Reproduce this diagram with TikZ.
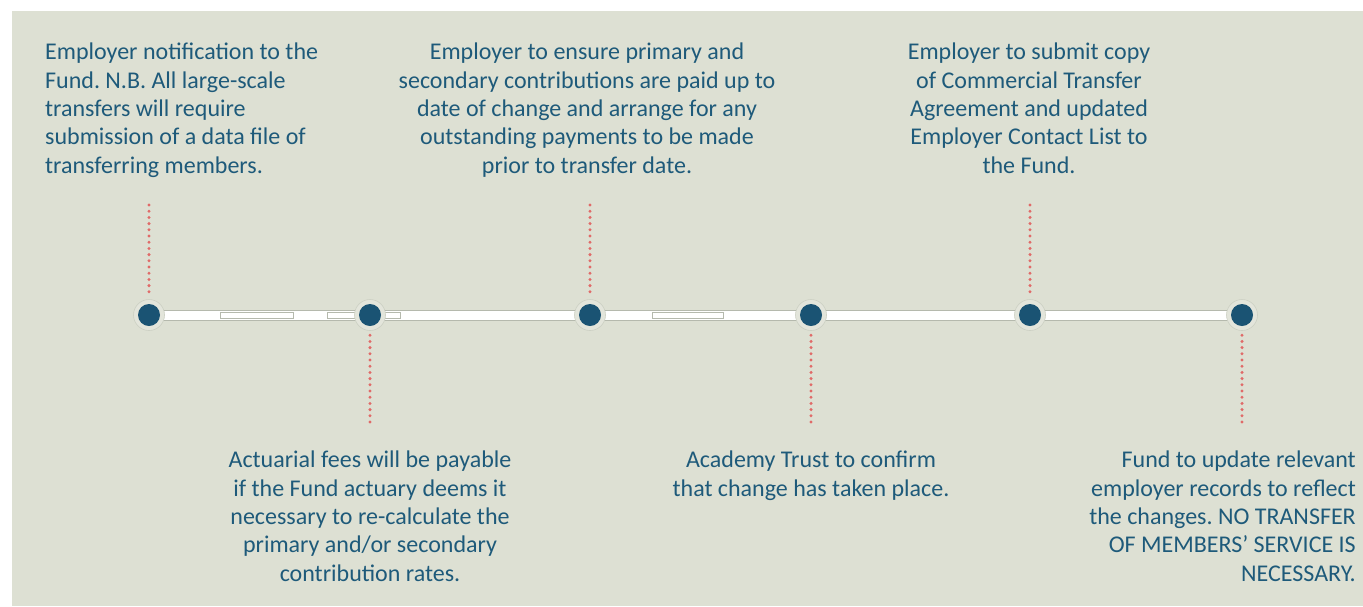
\documentclass[tikz,border=0pt]{standalone}
\usepackage{fontspec}
\setmainfont{Carlito}
\frenchspacing
\definecolor{panel}{HTML}{DDE0D3}
\definecolor{txt}{HTML}{1E5A7A}
\definecolor{dotc}{HTML}{E06A68}
\definecolor{ring}{HTML}{E3E5DB}
\definecolor{ringb}{HTML}{CCD0C3}
\definecolor{bandb}{HTML}{B5B9AD}
\definecolor{dark}{HTML}{1A5373}
\tikzset{
  lbl/.style={text=txt, font=\fontsize{24}{28.3}\selectfont, inner sep=0pt},
  milestone/.style={circle, fill=dark, minimum size=22pt, inner sep=0pt},
  halo/.style={circle, fill=ring, draw=ringb, line width=0.6pt, minimum size=31pt, inner sep=0pt},
  dotline/.style={dotc, line width=3.3pt, line cap=round, dash pattern=on 0pt off 6.2pt},
  band/.style={fill=white, draw=bandb, line width=1pt},
  slot/.style={fill=white, draw=bandb, line width=0.7pt}
}
\begin{document}
\begin{tikzpicture}[x=1pt,y=-1pt]
\useasboundingbox (0,0) rectangle (1363,606);
\fill[white] (0,0) rectangle (1363,606);
\fill[panel] (12,11) rectangle (1363,606);
% band
\draw[band] (149,310) rectangle (1242,320);
\draw[slot] (220,312.5) rectangle (293,318);
\draw[slot] (327,312.5) rectangle (400,318);
\draw[slot] (652,312.5) rectangle (723,318);
% milestones
\foreach \n/\x in {m1/149,m2/370,m3/590,m4/811,m5/1030,m6/1242}{
  \node[halo] at (\x,315) {};
  \node[milestone] (\n) at (\x,315) {};
}
% dotted connectors
\coordinate (t1) at (149,205);
\coordinate (t3) at (590,205);
\coordinate (t5) at (1030,205);
\coordinate (b2) at (370,428);
\coordinate (b4) at (811,428);
\coordinate (b6) at (1242,428);
\draw[dotline] (t1) -- ([yshift=9pt]m1.north);
\draw[dotline] (t3) -- ([yshift=9pt]m3.north);
\draw[dotline] (t5) -- ([yshift=9pt]m5.north);
\draw[dotline] ([yshift=-9pt]m2.south) -- (b2);
\draw[dotline] ([yshift=-9pt]m4.south) -- (b4);
\draw[dotline] ([yshift=-9pt]m6.south) -- (b6);
% labels
\node[lbl, anchor=north west, align=left] (l1) at (45,43) {Employer notification to the\\Fund. N.B. All large-scale\\transfers will require\\submission of a data file of\\transferring members.};
\node[lbl, anchor=north, align=center] (l3) at (587,43) {Employer to ensure primary and\\secondary contributions are paid up to\\date of change and arrange for any\\outstanding payments to be made\\prior to transfer date.};
\node[lbl, anchor=north, align=center] (l5) at (1029,43) {Employer to submit copy\\of Commercial Transfer\\Agreement and updated\\Employer Contact List to\\the Fund.};
\node[lbl, anchor=north, align=center] (l2) at (370,451) {Actuarial fees will be payable\\if the Fund actuary deems it\\necessary to re-calculate the\\primary and/or secondary\\contribution rates.};
\node[lbl, anchor=north, align=center] (l4) at (811,451) {Academy Trust to confirm\\that change has taken place.};
\node[lbl, anchor=north east, align=right] (l6) at (1356,451) {Fund to update relevant\\employer records to reflect\\the changes. NO TRANSFER\\OF MEMBERS’ SERVICE IS\\NECESSARY.};
\end{tikzpicture}
\end{document}
